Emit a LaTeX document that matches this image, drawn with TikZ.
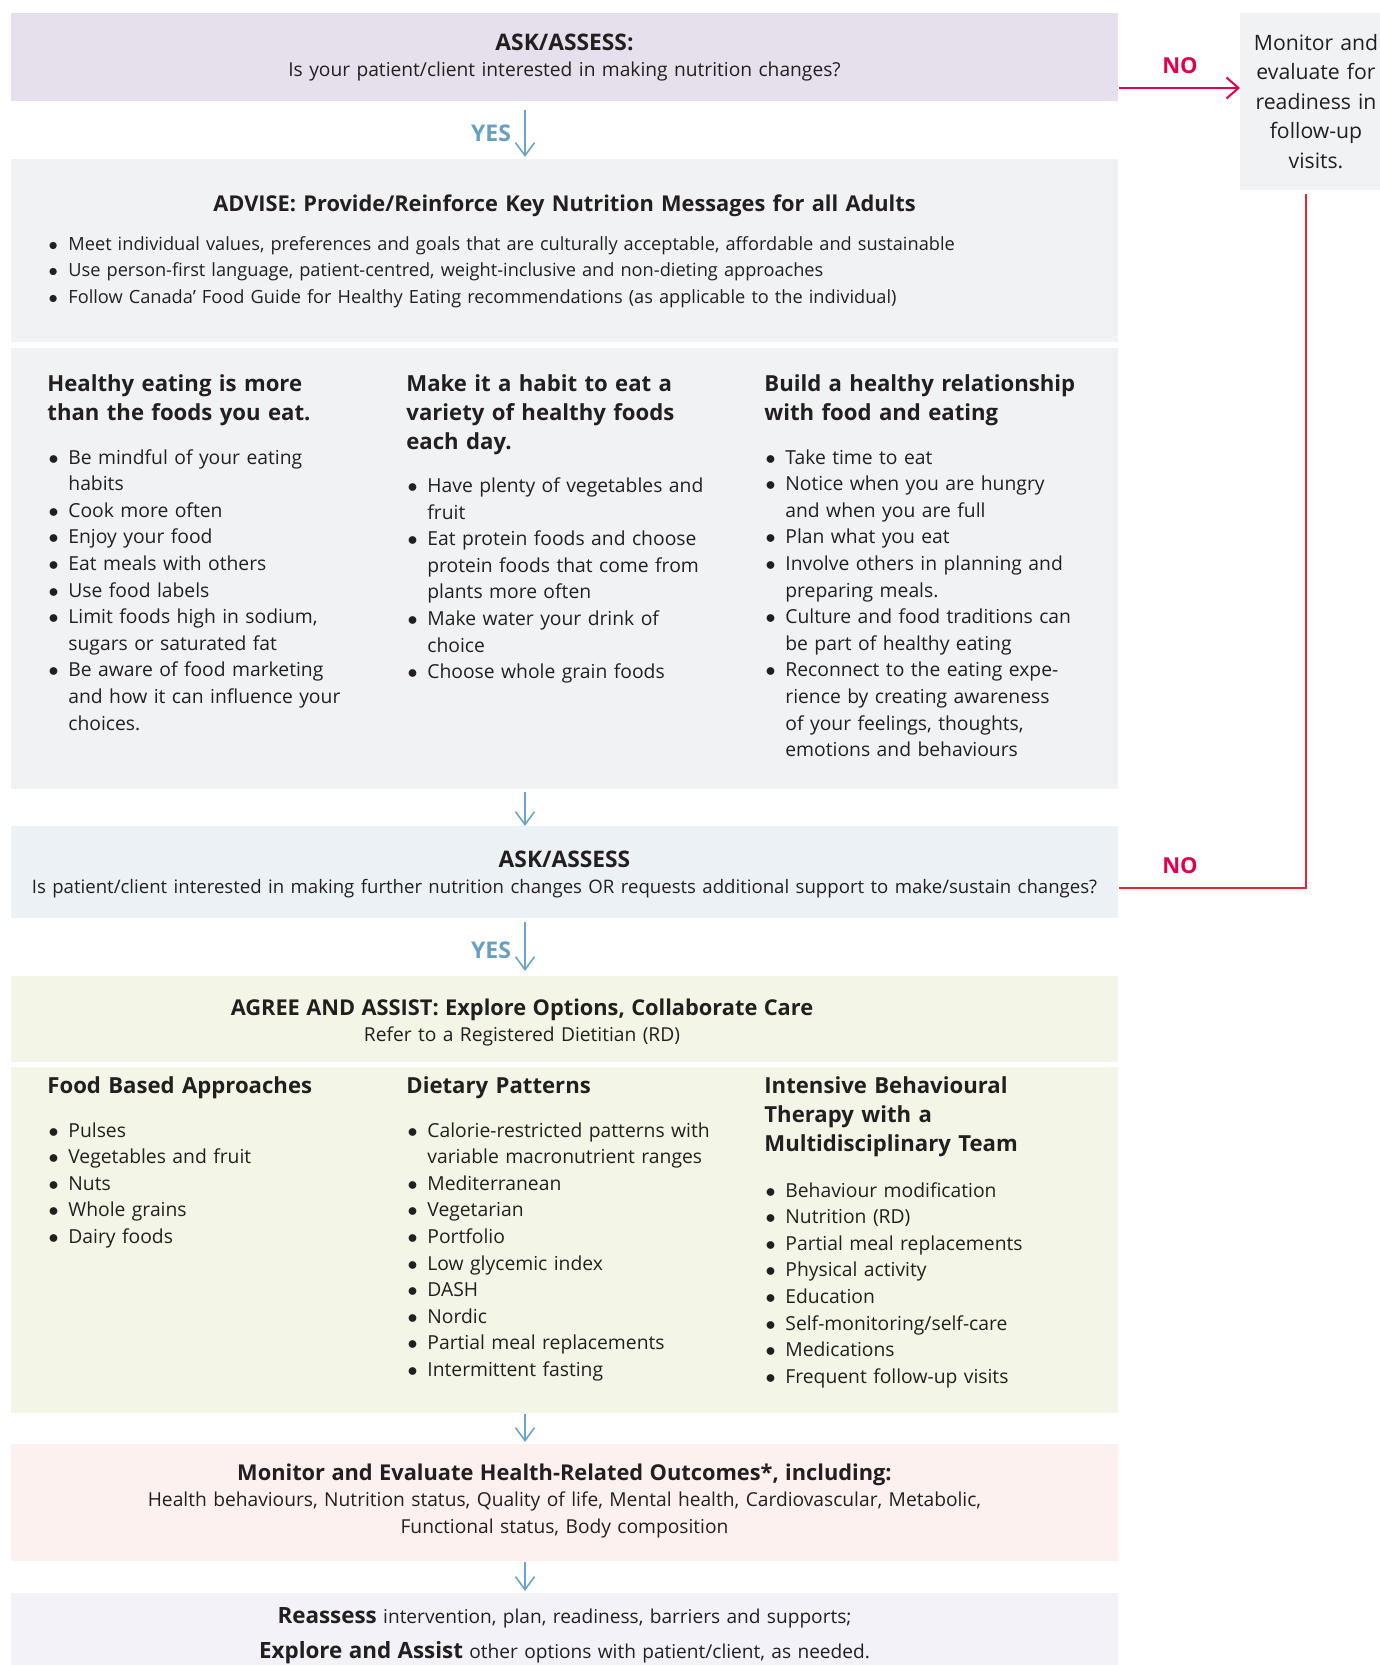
\documentclass[tikz,border=0pt]{standalone}
\usepackage{fontspec}
\setmainfont{Open Sans}
\usetikzlibrary{calc,arrows.meta}

\definecolor{ink}{HTML}{231F20}
\definecolor{askbg}{HTML}{E5E0EB}
\definecolor{advbg}{HTML}{F1F2F4}
\definecolor{asktwobg}{HTML}{ECF1F6}
\definecolor{agreebg}{HTML}{F3F6E6}
\definecolor{outbg}{HTML}{FDF1F0}
\definecolor{reasbg}{HTML}{F2F2F8}
\definecolor{flowblue}{HTML}{6BA4C8}
\definecolor{yesblue}{HTML}{6A9FC2}
\definecolor{nored}{HTML}{E5004A}
\definecolor{linered}{HTML}{E4262C}

\newcommand\txt{\fontsize{9.6pt}{13.25pt}\selectfont}
\newcommand\ttl{\fontsize{10.9pt}{13.25pt}\selectfont\bfseries}
\newcommand\askttl{\fontsize{11.4pt}{13.25pt}\selectfont\bfseries}
\newcommand\hd{\fontsize{11.07pt}{14.6pt}\selectfont\bfseries}
\newcommand\itx{\fontsize{9.65pt}{13.3pt}\selectfont}
\newcommand\sml{\fontsize{9.1pt}{13.25pt}\selectfont}
\newcommand\bul[1]{\hangindent=10.5pt\hangafter=1\noindent\makebox[10.5pt][l]{\hspace{0.6pt}$\bullet$}#1\par}

\begin{document}
\begin{tikzpicture}[x=0.5pt,y=-0.5pt,
  every node/.style={text=ink},
  box/.style={anchor=north west,inner sep=0pt,minimum width=553.5pt},
  coltext/.style={anchor=base west,inner sep=0pt,align=left,text width=170pt},
  ctext/.style={anchor=base,inner sep=0pt,align=center,text width=620pt,font=\txt},
  flow/.style={draw=flowblue,line width=0.8pt,-{Straight Barb[length=6.5pt,width=9.5pt]}},
  back/.style={draw=linered,line width=1.1pt},
  yeslbl/.style={text=yesblue,inner sep=0pt,font=\fontsize{11.5pt}{12pt}\selectfont\bfseries},
  nolbl/.style={text=nored,inner sep=0pt,font=\fontsize{11pt}{12pt}\selectfont\bfseries}]
\useasboundingbox (0,0) rectangle (1380,1665);
\coordinate (ax) at (525,0);
\coordinate (rx) at (1306,0);
\coordinate (noa) at (0,88);
\coordinate (nob) at (0,888);

\node[box,fill=askbg,minimum height=44pt] (ask) at (11,13) {};
\node[box,fill=advbg,minimum height=91.5pt] (adv) at (11,159) {};
\node[box,fill=advbg,minimum height=220.5pt] (eat) at (11,348) {};
\node[box,fill=asktwobg,minimum height=46pt] (asktwo) at (11,826) {};
\node[box,fill=agreebg,minimum height=43pt] (agree) at (11,976) {};
\node[box,fill=agreebg,minimum height=173pt] (opt) at (11,1067) {};
\node[box,fill=outbg,minimum height=58.5pt] (out) at (11,1444) {};
\node[box,fill=reasbg,minimum height=40pt] (reas) at (11,1593) {};
\node[anchor=north west,inner sep=0pt,fill=advbg,minimum width=70pt,minimum height=88.5pt] (mon) at (1240,13) {};

\node[ctext] (askt) at (564.5,50) {{\askttl ASK/ASSESS:}\\Is your patient/client interested in making nutrition changes?};
\node[anchor=base,inner sep=0pt,align=center,text width=80pt,font=\fontsize{10.6pt}{14.75pt}\selectfont] (mont) at (1316,50) {Monitor and\\evaluate for\\readiness in\\follow-up\\visits.};

\node[ctext,font=\ttl] (advt) at (564.5,211) {ADVISE: Provide/Reinforce Key Nutrition Messages for all Adults};
\node[coltext,text width=540pt,font=\sml] (advl) at (47,250) {\bul{Meet individual values, preferences and goals that are culturally acceptable, affordable and sustainable}
\bul{Use person-first language, patient-centred, weight-inclusive and non-dieting approaches}
\bul{Follow Canada’ Food Guide for Healthy Eating recommendations (as applicable to the individual)}};

\node[coltext,font=\hd] (hone) at (47,391) {Healthy eating is more\\than the foods you eat.};
\node[coltext,font=\itx] (lone) at (47,464) {\bul{Be mindful of your eating\newline habits}
\bul{Cook more often}
\bul{Enjoy your food}
\bul{Eat meals with others}
\bul{Use food labels}
\bul{Limit foods high in sodium,\newline sugars or saturated fat}
\bul{Be aware of food marketing\newline and how it can influence your\newline choices.}};
\node[coltext,font=\hd] (htwo) at (406,391) {Make it a habit to eat a\\variety of healthy foods\\each day.};
\node[coltext,font=\itx] (ltwo) at (406,492.5) {\bul{Have plenty of vegetables and\newline fruit}
\bul{Eat protein foods and choose\newline protein foods that come from\newline plants more often}
\bul{Make water your drink of\newline choice}
\bul{Choose whole grain foods}};
\node[coltext,font=\hd] (hthree) at (764,391) {Build a healthy relationship\\with food and eating};
\node[coltext,font=\itx] (lthree) at (764,464) {\bul{Take time to eat}
\bul{Notice when you are hungry\newline and when you are full}
\bul{Plan what you eat}
\bul{Involve others in planning and\newline preparing meals.}
\bul{Culture and food traditions can\newline be part of healthy eating}
\bul{Reconnect to the eating expe-\newline rience by creating awareness\newline of your feelings, thoughts,\newline emotions and behaviours}};

\node[ctext] (asktwot) at (564.5,867) {{\askttl ASK/ASSESS}\\\fontsize{9.3pt}{13pt}\selectfont Is patient/client interested in making further nutrition changes OR requests additional support to make/sustain changes?};

\node[ctext] (agreet) at (522,1015) {{\ttl AGREE AND ASSIST: Explore Options, Collaborate Care}\\Refer to a Registered Dietitian (RD)};

\node[coltext,font=\hd] (hfour) at (47,1093) {Food Based Approaches};
\node[coltext,font=\itx] (lfour) at (47,1137) {\bul{Pulses}
\bul{Vegetables and fruit}
\bul{Nuts}
\bul{Whole grains}
\bul{Dairy foods}};
\node[coltext,font=\hd] (hfive) at (406,1093) {Dietary Patterns};
\node[coltext,font=\itx] (lfive) at (406,1137) {\bul{Calorie-restricted patterns with\newline variable macronutrient ranges}
\bul{Mediterranean}
\bul{Vegetarian}
\bul{Portfolio}
\bul{Low glycemic index}
\bul{DASH}
\bul{Nordic}
\bul{Partial meal replacements}
\bul{Intermittent fasting}};
\node[coltext,font=\hd] (hsix) at (764,1093) {Intensive Behavioural\\Therapy with a\\Multidisciplinary Team};
\node[coltext,font=\itx] (lsix) at (764,1197) {\bul{Behaviour modification}
\bul{Nutrition (RD)}
\bul{Partial meal replacements}
\bul{Physical activity}
\bul{Education}
\bul{Self-monitoring/self-care}
\bul{Medications}
\bul{Frequent follow-up visits}};

\node[ctext] (outt) at (564.5,1480) {{\ttl Monitor and Evaluate Health-Related Outcomes*, including:}\\Health behaviours, Nutrition status, Quality of life, Mental health, Cardiovascular, Metabolic,\\Functional status, Body composition};

\node[ctext,font=\fontsize{9.55pt}{17.5pt}\selectfont] (reast) at (564.5,1623) {{\fontsize{11.2pt}{17.5pt}\selectfont\bfseries Reassess} intervention, plan, readiness, barriers and supports;\\{\fontsize{11.2pt}{17.5pt}\selectfont\bfseries Explore and Assist} other options with patient/client, as needed.};

\node[yeslbl] (yesone) at (491,133) {YES};
\node[yeslbl] (yestwo) at (491,950) {YES};
\node[nolbl] (noone) at (1180,66) {NO};
\node[nolbl] (notwo) at (1180,866) {NO};

\draw[flow,shorten <=4pt,shorten >=1pt] (ask.south -| ax) -- (adv.north -| ax);
\draw[flow,shorten <=1pt] (eat.south -| ax) -- (asktwo.north -| ax);
\draw[flow,shorten <=1.5pt,shorten >=2.5pt] (asktwo.south -| ax) -- (agree.north -| ax);
\draw[flow,shorten >=1pt] (opt.south -| ax) -- (out.north -| ax);
\draw[flow,shorten >=1pt] (out.south -| ax) -- (reas.north -| ax);
\draw[draw=nored,line width=1pt,-{Straight Barb[length=6pt,width=10.5pt]}] (ask.east |- noa) -- (mon.west |- noa);
\draw[back,shorten <=1.5pt] (mon.south -| rx) |- (asktwo.east |- nob);
\end{tikzpicture}
\end{document}
